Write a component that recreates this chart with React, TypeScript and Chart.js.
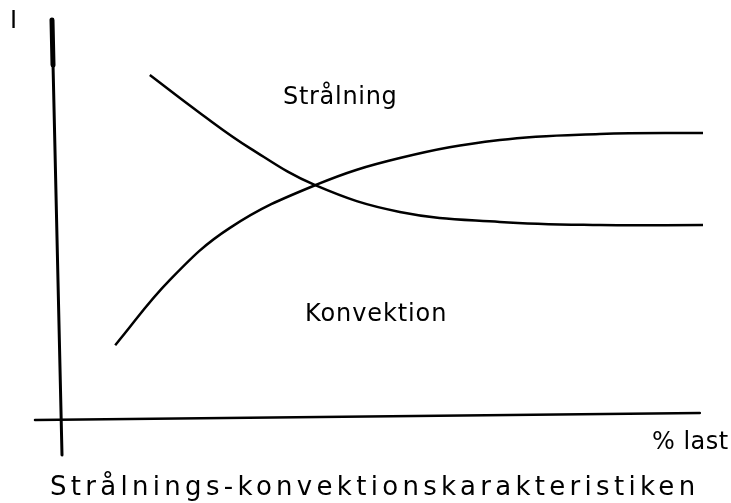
import React, { useEffect, useRef } from "react";
import { Chart, registerables } from "chart.js";

Chart.register(...registerables);

// % last (x) and relative share (y)
const straX = [13.7, 21.5, 29.3, 39.5, 52.7, 68.3, 83.9, 100];
const straY = [86.2, 76.7, 67.9, 58.6, 51.9, 49.4, 48.6, 48.6];
const konvX = [8.3, 16.8, 26.2, 39.5, 52.7, 68.3, 83.9, 100];
const konvY = [18.5, 34.8, 47.9, 58.6, 65.4, 69.9, 71.4, 71.7];

const yAxisLabel = "I";
const xAxisLabel = "% last";
const straLabel = "Strålning";
const konvLabel = "Konvektion";
const titleText = "Strålnings-konvektionskarakteristiken";

const FONT = '"DejaVu Sans", sans-serif';

const drawPlugin = {
  id: "sketch",
  afterDraw(chart: any) {
    const ctx = chart.ctx;
    const xs = chart.scales.x;
    const ys = chart.scales.y;
    const x0 = xs.getPixelForValue(0);
    const y0 = ys.getPixelForValue(0);
    const yTop = ys.getPixelForValue(100);
    const xEnd = xs.getPixelForValue(99.5);
    ctx.save();
    ctx.strokeStyle = "#000";
    ctx.lineCap = "round";
    // vertical axis
    ctx.lineWidth = 3;
    ctx.beginPath();
    ctx.moveTo(x0 - 10, yTop);
    ctx.lineTo(x0, y0 + 36);
    ctx.stroke();
    ctx.lineWidth = 5;
    ctx.beginPath();
    ctx.moveTo(x0 - 10, yTop);
    ctx.lineTo(x0 - 9, yTop + 45);
    ctx.stroke();
    // horizontal axis
    ctx.lineWidth = 2.5;
    ctx.beginPath();
    ctx.moveTo(x0 - 27, y0 + 1);
    ctx.lineTo(xEnd, y0 - 6);
    ctx.stroke();

    ctx.fillStyle = "#000";
    ctx.textBaseline = "alphabetic";
    ctx.textAlign = "left";
    ctx.font = `24px ${FONT}`;
    (ctx as any).letterSpacing = "0.7px";
    ctx.fillText(straLabel, 283, ys.getPixelForValue(79.0));
    (ctx as any).letterSpacing = "0.9px";
    ctx.fillText(konvLabel, 305, ys.getPixelForValue(24.5));
    (ctx as any).letterSpacing = "0.5px";
    ctx.fillText(xAxisLabel, 652, y0 + 30);
    ctx.font = `26px ${FONT}`;
    (ctx as any).letterSpacing = "4.3px";
    ctx.fillText(titleText, 50, y0 + 76);
    ctx.font = `24px ${FONT}`;
    (ctx as any).letterSpacing = "0px";
    ctx.fillText(yAxisLabel, 10, 28);
    ctx.restore();
  },
};

export default function App() {
  const ref = useRef<HTMLCanvasElement>(null);
  useEffect(() => {
    document.body.style.margin = "0";
    const chart = new Chart(ref.current!, {
      type: "line",
      data: {
        datasets: [
          {
            label: straLabel,
            data: straX.map((x, i) => ({ x, y: straY[i] })),
            borderColor: "#000",
            borderWidth: 2.5,
            pointRadius: 0,
            tension: 0.4,
          },
          {
            label: konvLabel,
            data: konvX.map((x, i) => ({ x, y: konvY[i] })),
            borderColor: "#000",
            borderWidth: 2.5,
            pointRadius: 0,
            tension: 0.4,
          },
        ],
      },
      options: {
        animation: false,
        responsive: false,
        layout: { padding: { left: 62, right: 28, top: 20, bottom: 84 } },
        plugins: { legend: { display: false }, tooltip: { enabled: false } },
        scales: {
          x: { type: "linear", min: 0, max: 100, display: false },
          y: { type: "linear", min: 0, max: 100, display: false },
        },
      },
      plugins: [drawPlugin],
    });
    return () => chart.destroy();
  }, []);
  return (
    <div style={{ width: 731, height: 503, background: "#fff" }}>
      <canvas ref={ref} width={731} height={503} />
    </div>
  );
}
